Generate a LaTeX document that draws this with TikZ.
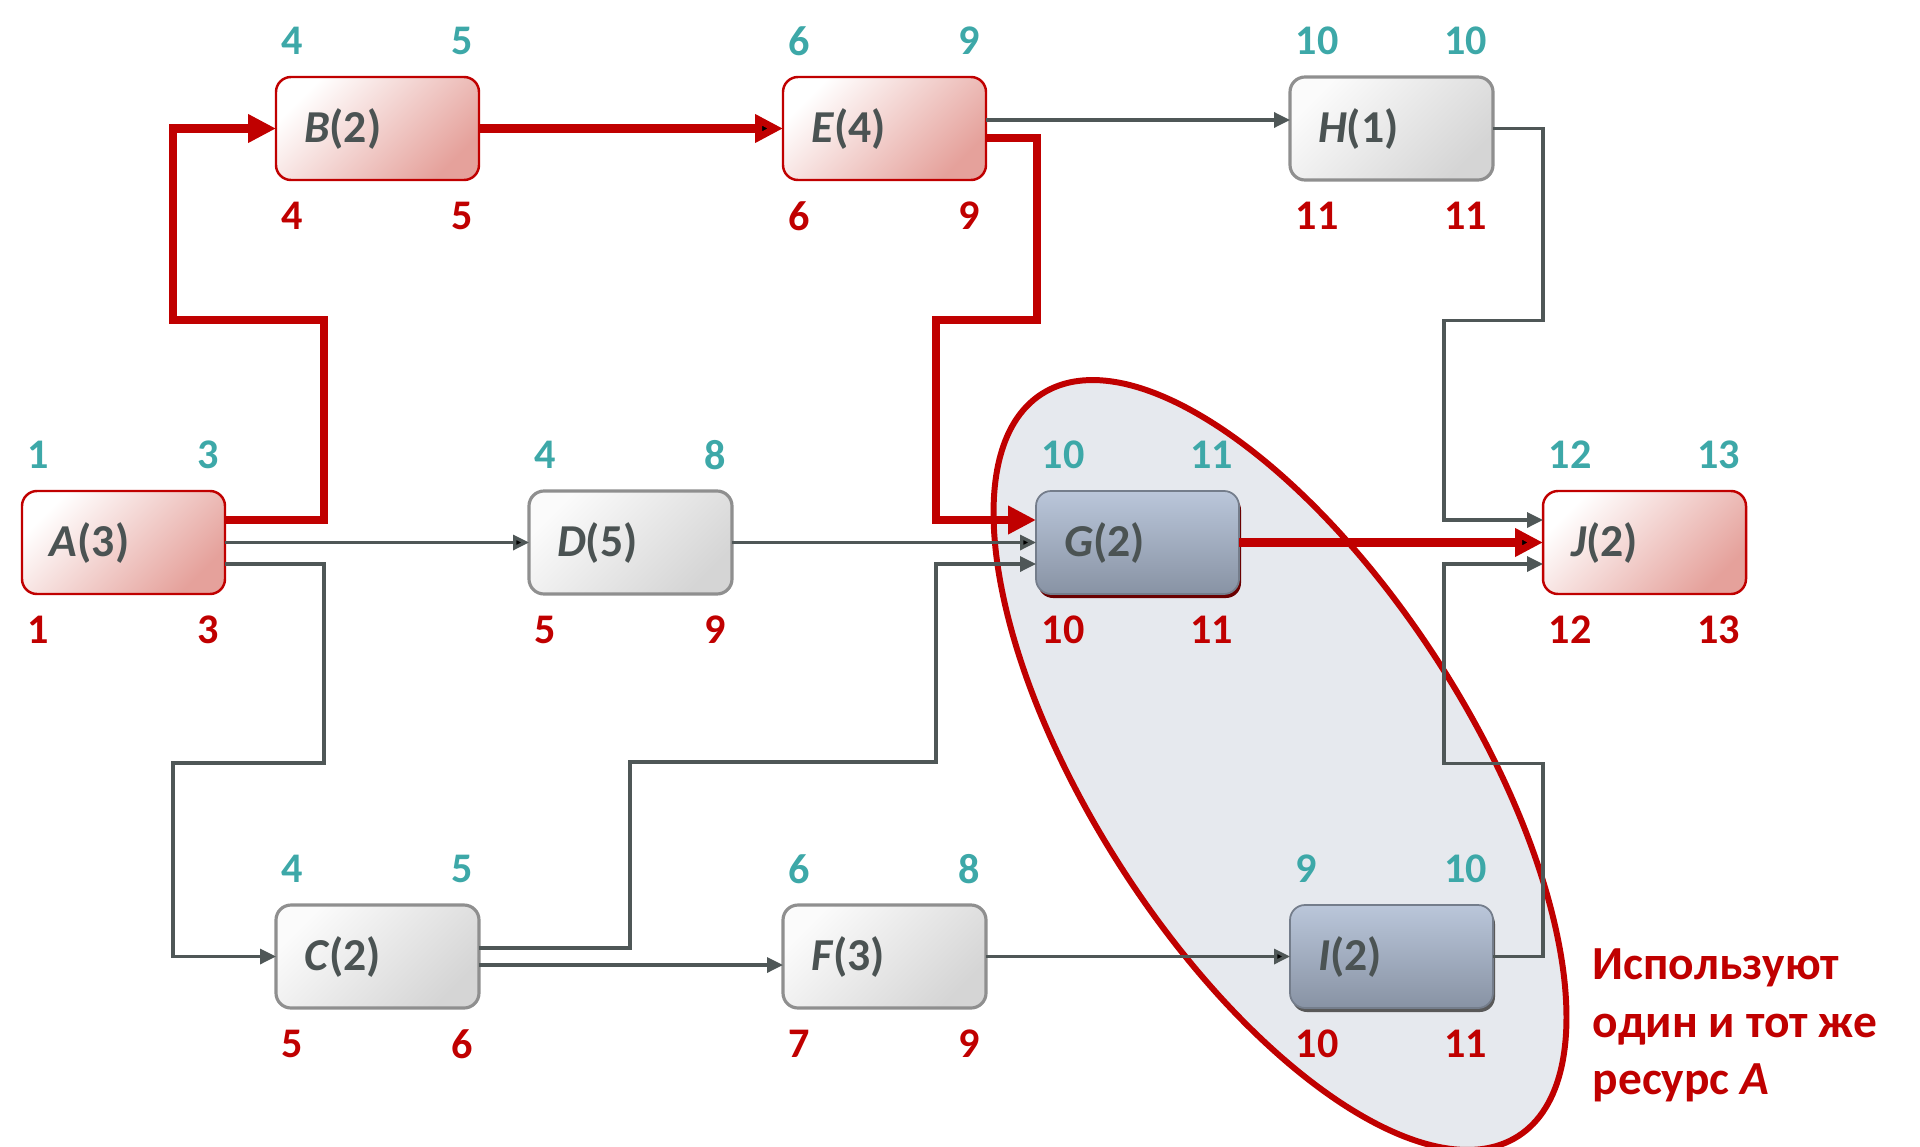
\documentclass[tikz,border=0pt]{standalone}
\usepackage{fontspec}
\setmainfont{Carlito}
\usetikzlibrary{positioning,arrows.meta,calc,shadows}

\definecolor{critred}{HTML}{C00000}
\definecolor{earlyteal}{HTML}{3DA8A8}
\definecolor{linegray}{HTML}{4F5757}
\definecolor{txtgray}{HTML}{4B5353}
\definecolor{redfill}{HTML}{E5A19B}
\definecolor{grayfill}{HTML}{D5D5D5}
\definecolor{grayedge}{HTML}{8F8F8F}
\definecolor{bluetop}{HTML}{BAC6DA}
\definecolor{bluebot}{HTML}{8893A4}
\definecolor{zonefill}{HTML}{E6E9EE}

\tikzset{
  task/.style={rectangle, rounded corners=1.5mm, text width=1.47cm, inner xsep=2.8mm,
    inner ysep=0pt, outer sep=0pt, minimum height=1.03cm, align=left,
    font=\fontsize{13}{15}\selectfont\bfseries, text=txtgray},
  crittask/.style={task, draw=critred, line width=0.7pt, top color=white,
    bottom color=redfill, shading angle=45},
  plaintask/.style={task, draw=grayedge, line width=0.9pt, top color=white!90!grayfill,
    bottom color=grayfill, shading angle=45},
  restask/.style={task, draw=bluebot!85!black, line width=0.5pt, top color=bluetop,
    bottom color=bluebot},
  early/.style={font=\fontsize{12}{14}\selectfont\bfseries, text=earlyteal, inner sep=0pt},
  late/.style={early, text=critred},
  note/.style={font=\fontsize{13.5}{16.4}\selectfont\bfseries, text=critred, align=left,
    inner sep=0pt},
  flow/.style={draw=linegray, line width=0.95pt, -{Triangle[length=1.6mm,width=1.5mm]}},
  crit/.style={draw=critred, line width=2.3pt, -{Triangle[length=2.8mm,width=2.7mm]}},
}

% early start / early finish above, late start / late finish below
\newcommand{\tlabels}[5]{%
  \node[early, anchor=west] (#1es) at ($(#1.north west)+(0.05,0.36)$) {#2};
  \node[early, anchor=east] (#1ef) at ($(#1.north east)+(-0.05,0.36)$) {#3};
  \node[late, anchor=west] (#1ls) at ($(#1.south west)+(0.05,-0.36)$) {#4};
  \node[late, anchor=east] (#1lf) at ($(#1.south east)+(-0.05,-0.36)$) {#5};
}

\begin{document}
\begin{tikzpicture}[node distance=3.11cm and 3.04cm]
    \useasboundingbox (0,0) rectangle (19.2,-11.46);

    % shared resource
    \draw[critred, line width=1.7pt, fill=zonefill, rotate around={-57.3:(12.80,-7.65)}]
        (12.80,-7.65) ellipse (4.41cm and 1.89cm);

    \node[crittask] (A) at (1.235,-5.425) {\textit{A}(3)};
    \node[plaintask] (D) [right=of A] {\textit{D}(5)};
    \node[restask, drop shadow={shadow xshift=0.2mm, shadow yshift=-0.4mm, fill=critred!55!black, opacity=1}] (G) [right=of D] {\textit{G}(2)};
    \node[crittask] (J) [right=of G] {\textit{J}(2)};
    \node[crittask] (B) [above=of A, xshift=2.54cm] {\textit{B}(2)};
    \node[crittask] (E) [right=of B] {\textit{E}(4)};
    \node[plaintask] (H) [right=of E] {\textit{H}(1)};
    \node[plaintask] (C) [below=of A, xshift=2.54cm] {\textit{C}(2)};
    \node[plaintask] (F) [right=of C] {\textit{F}(3)};
    \node[restask, drop shadow={shadow xshift=0.2mm, shadow yshift=-0.4mm, fill=black!65, opacity=1}] (I) [right=of F] {\textit{I}(2)};

    \tlabels{A}{1}{3}{1}{3}
    \tlabels{B}{4}{5}{4}{5}
    \tlabels{C}{4}{5}{5}{6}
    \tlabels{D}{4}{8}{5}{9}
    \tlabels{E}{6}{9}{6}{9}
    \tlabels{F}{6}{8}{7}{9}
    \tlabels{G}{10}{11}{10}{11}
    \tlabels{H}{10}{10}{11}{11}
    \tlabels{I}{9}{10}{10}{11}
    \tlabels{J}{12}{13}{12}{13}

    \node[note] (note) [right=0.99cm of I, yshift=-0.69cm] {Используют\\один и тот же\\ресурс \textit{A}};

    \draw[crit] ([yshift=2.25mm]A.east) -- ++(0.99,0) -- ++(0,2) -- ++(-1.51,0) |- (B.west);
    \path[crit] (B) edge (E);
    \draw[crit] ([yshift=-0.95mm]E.east) -- ++(0.51,0) -- ++(0,-1.82) -- ++(-1.01,0) |- ([yshift=2.25mm]G.west);
    \path[crit] (G) edge (J);

    \draw[flow] ([yshift=0.85mm]E.east) -- ([yshift=0.85mm]H.west);
    \draw[flow] (H.east) -- ++(0.50,0) -- ++(0,-1.92) -- ++(-0.99,0) |- ([yshift=2.25mm]J.west);
    \path[flow] (A) edge (D);
    \draw[flow] ([yshift=-2.15mm]A.east) -- ++(0.99,0) -- ++(0,-1.99) -- ++(-1.51,0) |- (C.west);
    \path[flow] (D) edge (G);
    \draw[flow] ([yshift=0.85mm]C.east) -- ++(1.51,0) -- ++(0,1.86) -- ++(3.06,0) |- ([yshift=-2.15mm]G.west);
    \draw[flow] ([yshift=-0.85mm]C.east) -- ([yshift=-0.85mm]F.west);
    \path[flow] (F) edge (I);
    \draw[flow] (I.east) -- ++(0.50,0) -- ++(0,1.93) -- ++(-0.99,0) |- ([yshift=-2.15mm]J.west);

\end{tikzpicture}
\end{document}
